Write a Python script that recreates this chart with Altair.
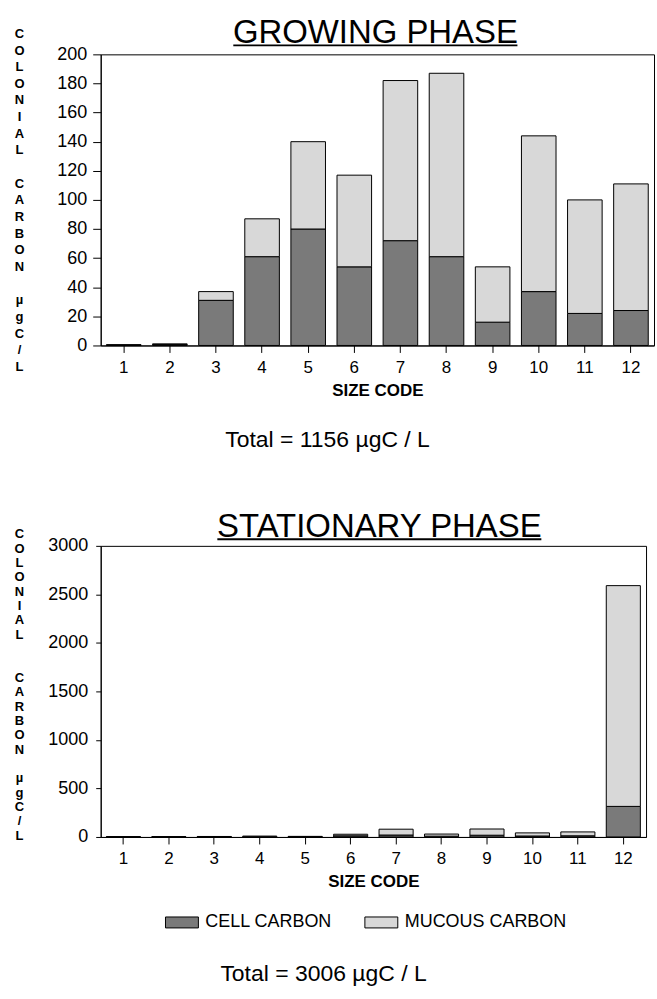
import altair as alt
import pandas as pd

FONT = "Liberation Sans"

size_codes = [str(i) for i in range(1, 13)]
series_names = ["CELL CARBON", "MUCOUS CARBON"]
series_colors = ["#7a7a7a", "#d8d8d8"]

growing_cell = [0.3, 0.6, 31, 61, 80, 54, 72, 61, 16, 37, 22, 24]
growing_mucous = [0.2, 0.5, 6, 26, 60, 63, 110, 126, 38, 107, 78, 87]
stationary_cell = [1, 1, 2, 3, 2, 12, 20, 8, 18, 10, 12, 315]
stationary_mucous = [1, 2, 3, 6, 4, 16, 60, 22, 64, 32, 40, 2275]

titles = ["GROWING PHASE", "STATIONARY PHASE"]
totals = ["Total = 1156 \u00b5gC / L", "Total = 3006 \u00b5gC / L"]
y_ticks_growing = list(range(0, 201, 20))
y_ticks_stationary = list(range(0, 3001, 500))

BL = "\u2800"
letters_top = list("COLONIAL") + [BL] + list("CARBON") + [BL] + ["\u00b5", "g", "C", "/", "L"]
letters_bottom = list("COLONIAL") + [BL, BL] + list("CARBON") + [BL] + ["\u00b5", "g", "C", "/", "L"]


def long_df(cell, mucous):
    rows = []
    for s, c, m in zip(size_codes, cell, mucous):
        rows.append({"size": s, "series": series_names[0], "ord": 0, "value": c})
        rows.append({"size": s, "series": series_names[1], "ord": 1, "value": m})
    return pd.DataFrame(rows)


def panel(df, title, total, ymax, yticks, width, height, letters, ltitle_y, line_h,
          label_pad, tick_size, title_y, ul, total_y, legend):
    bars = alt.Chart(df).mark_bar(stroke="black", strokeWidth=1).encode(
        x=alt.X("size:O", sort=size_codes,
                scale=alt.Scale(paddingInner=0.25, paddingOuter=0.125),
                axis=alt.Axis(title="SIZE CODE", labelAngle=0, labelFont=FONT,
                              labelFontSize=17, labelColor="black", labelPadding=7,
                              tickSize=7, tickColor="black", domainColor="black",
                              titleFont=FONT, titleFontSize=17, titleFontWeight="bold",
                              titleColor="black", titlePadding=7)),
        y=alt.Y("value:Q", stack="zero",
                scale=alt.Scale(domain=[0, ymax], nice=False),
                axis=alt.Axis(values=yticks, format="d", grid=False, labelFont=FONT,
                              labelFontSize=18, labelColor="black", labelPadding=label_pad,
                              tickSize=tick_size, tickColor="black", domainColor="black",
                              title=letters, titleAngle=0, titleX=-82, titleY=ltitle_y,
                              titleAlign="center", titleBaseline="top",
                              titleLineHeight=line_h, titleFont=FONT, titleFontSize=13,
                              titleFontWeight="bold", titleColor="black")),
        color=alt.Color("series:N",
                        scale=alt.Scale(domain=series_names, range=series_colors),
                        legend=legend),
        order=alt.Order("ord:Q", sort="ascending"),
    )
    tdf = pd.DataFrame({"t": [title], "total": [total]})
    title_mark = alt.Chart(tdf).mark_text(
        font=FONT, fontSize=33, baseline="alphabetic", align="center", color="black"
    ).encode(text="t:N", x=alt.value(ul[0] + (ul[1] - ul[0]) / 2), y=alt.value(title_y))
    underline = alt.Chart(tdf).mark_rule(color="black", strokeWidth=2).encode(
        x=alt.value(ul[0]), x2=alt.value(ul[1]), y=alt.value(title_y + 2.5))
    total_mark = alt.Chart(tdf).mark_text(
        font=FONT, fontSize=23, baseline="middle", align="center", color="black"
    ).encode(text="total:N", x=alt.value(width / 2 - 50), y=alt.value(total_y))
    return alt.layer(bars, title_mark, underline, total_mark).properties(
        width=width, height=height)


top = panel(long_df(growing_cell, growing_mucous), titles[0], totals[0], 200,
            y_ticks_growing, 555, 292, letters_top, -27, 16.7, 6, 8, -11.5, (133, 418), 387,
            None)

legend = alt.Legend(orient="none", legendX=70, legendY=366, direction="horizontal",
                    title=None,
                    symbolType="M-1.5,-0.5L1.5,-0.5L1.5,0.5L-1.5,0.5Z", symbolSize=484,
                    symbolStrokeColor="black", symbolStrokeWidth=1, symbolOpacity=1,
                    labelFont=FONT, labelFontSize=18, labelColor="black", labelLimit=400,
                    columnPadding=30, labelOffset=12)

bottom = panel(long_df(stationary_cell, stationary_mucous), titles[1], totals[1], 3000,
               y_ticks_stationary, 547, 292, letters_bottom, -18, 14.4, 8, 5, -9, (117, 442),
               429, legend)

chart = alt.vconcat(top, bottom, spacing=57).resolve_scale(color="independent").properties(
    padding={"left": 13, "top": 15, "right": 2, "bottom": 5}
).configure_view(stroke="black", strokeWidth=1)

chart.save("out.html", embed_options={"renderer": "svg", "actions": False})
